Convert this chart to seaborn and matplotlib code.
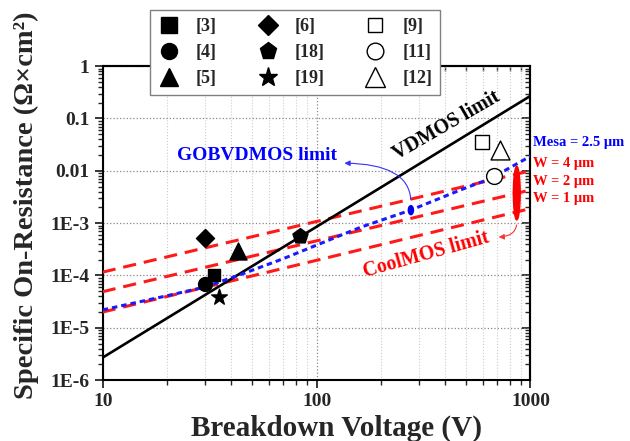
import numpy as np
import pandas as pd
import matplotlib
matplotlib.use('Agg')
import matplotlib.pyplot as plt
import seaborn as sns
from matplotlib.ticker import LogLocator, FixedLocator, FixedFormatter, NullFormatter
from matplotlib.lines import Line2D

# literature devices (breakdown voltage V, specific on-resistance ohm*cm2)
ref_labels = ['[3]', '[4]', '[5]', '[6]', '[18]', '[19]', '[9]', '[11]', '[12]']
ref_voltage = [33, 30, 43, 30, 84, 35, 595, 675, 720]
ref_ron = [1.0e-4, 7.0e-5, 3.0e-4, 5.3e-4, 5.7e-4, 3.8e-5, 0.036, 0.0079, 0.025]

# limit lines
vdmos_v = [10, 1000]
vdmos_r = [2.7e-6, 0.27]
coolmos_v = [10, 1000]
coolmos_w4 = [1.16e-4, 1.0e-2]
coolmos_w2 = [4.9e-5, 4.3e-3]
coolmos_w1 = [2.0e-5, 1.9e-3]
gob_v = [10, 20, 30, 45, 70, 100, 160, 275, 470, 650, 1000]
gob_r = [2.2e-5, 4.1e-5, 6.0e-5, 1.07e-4, 2.1e-4, 3.8e-4, 8.3e-4, 1.77e-3, 4.3e-3, 7.1e-3, 1.9e-2]

# marker styles
ref_markers = ['s', 'o', '^', 'D', 'p', '*', 's', 'o', '^']
ref_filled = [True, True, True, True, True, True, False, False, False]
ref_sizes = [85, 100, 150, 85, 130, 140, 100, 130, 185]
leg_sizes = [11.5, 11.5, 13, 10.2, 12.5, 14, 10.3, 12, 14.4]

sns.set_style('ticks')
plt.rcParams['font.family'] = ['Liberation Serif', 'DejaVu Serif']
plt.rcParams['font.weight'] = 'bold'

fig = plt.figure(figsize=(6.3, 4.41), dpi=100)
ax = fig.add_axes([0.163, 0.138, 0.679, 0.712])
ax.set_xscale('log')
ax.set_yscale('log')

red_dash = (0, (4.3, 2.6))
for w in [coolmos_w4, coolmos_w2, coolmos_w1]:
    sns.lineplot(x=coolmos_v, y=w, ax=ax, color='#ff1a1a', lw=2.2, linestyle=red_dash, zorder=3)
sns.lineplot(x=gob_v, y=gob_r, ax=ax, color='#1a1aff', lw=2.2, linestyle=(0, (1.8, 1.3)), zorder=4)
sns.lineplot(x=vdmos_v, y=vdmos_r, ax=ax, color='black', lw=1.9, zorder=3)

for v, r, m, f, s in zip(ref_voltage, ref_ron, ref_markers, ref_filled, ref_sizes):
    ax.scatter([v], [r], marker=m, s=s, c='black' if f else 'white',
               edgecolors='black', linewidths=1.0, zorder=6)

# small ellipses marking the lines (drawn in log space)
t = np.linspace(0, 2 * np.pi, 80)
ax.fill(10 ** (np.log10(863) + 0.016 * np.cos(t)),
        10 ** ((np.log10(0.0122) + np.log10(1.15e-3)) / 2 + 0.512 * np.sin(t)),
        color='#ff0000', zorder=7, clip_on=False)
ax.fill(10 ** (np.log10(276) + 0.012 * np.cos(t)),
        10 ** (np.log10(1.77e-3) + 0.086 * np.sin(t)),
        color='#0000ee', zorder=7)

ax.set_xlim(10, 1000)
ax.set_ylim(1e-6, 1)

ax.yaxis.set_major_locator(FixedLocator([1e-6, 1e-5, 1e-4, 1e-3, 1e-2, 1e-1, 1]))
ax.yaxis.set_major_formatter(FixedFormatter(['1E-6', '1E-5', '1E-4', '1E-3', '0.01', '0.1', '1']))
ax.xaxis.set_major_locator(FixedLocator([10, 100, 1000]))
ax.xaxis.set_major_formatter(FixedFormatter(['10', '100', '1000']))
for axis in [ax.xaxis, ax.yaxis]:
    axis.set_minor_locator(LogLocator(base=10, subs=np.arange(2, 10), numticks=100))
    axis.set_minor_formatter(NullFormatter())

ax.tick_params(which='major', direction='out', length=6, width=1.3, labelsize=14)
ax.tick_params(which='minor', direction='out', length=3.5, width=1.0)
ax.grid(which='major', ls=':', color='#888888', lw=0.9)
ax.xaxis.grid(which='minor', ls=':', color='#cccccc', lw=0.8)
for sp in ax.spines.values():
    sp.set_linewidth(1.5)
    sp.set_color('black')

for sec in [ax.secondary_xaxis('top'), ax.secondary_yaxis('right')]:
    sec.tick_params(which='major', direction='in', length=6, width=1.3)
    sec.tick_params(which='minor', direction='in', length=3.5, width=1.0)
    for a in [sec.xaxis, sec.yaxis]:
        a.set_major_formatter(NullFormatter())
        a.set_minor_formatter(NullFormatter())
    sec.spines[:].set_linewidth(1.5)
ax.set_xlabel('Breakdown Voltage (V)', fontsize=21, fontweight='bold')
ax.set_ylabel('Specific On-Resistance (Ω×cm²)', fontsize=20.5, fontweight='bold')
ax.xaxis.set_label_coords(0.546, -0.11)
ax.yaxis.set_label_coords(-0.15, 0.557)

# annotations
ax.text(406, 0.0745, 'VDMOS limit', rotation=30, fontsize=14.5, fontweight='bold',
        ha='center', va='center', color='black')
ax.text(324, 2.54e-4, 'CoolMOS limit', rotation=15.6, fontsize=14.3, fontweight='bold',
        ha='center', va='center', color='#ff0000')
ax.text(52.6, 0.02, 'GOBVDMOS limit', fontsize=14, fontweight='bold',
        ha='center', va='center', color='#0000ff')
ax.annotate('', xy=(131, 0.014), xytext=(276, 2.5e-3),
            arrowprops=dict(arrowstyle='-|>', color='#3333ff', lw=0.8,
                            connectionstyle='angle3,angleA=90,angleB=0',
                            mutation_scale=8))
ax.annotate('', xy=(689, 5.4e-4), xytext=(863, 1.04e-3),
            arrowprops=dict(arrowstyle='-|>', color='#ff3333', lw=0.8,
                            connectionstyle='angle3,angleA=90,angleB=0',
                            mutation_scale=8), annotation_clip=False)
side = [('Mesa = 2.5 μm', 0.035, '#0000ff'), ('W = 4 μm', 0.0138, '#ff0000'),
        ('W = 2 μm', 6.3e-3, '#ff0000'), ('W = 1 μm', 2.9e-3, '#ff0000')]
for txt, y, c in side:
    ax.text(1026, y, txt, fontsize=10.5, fontweight='bold', color=c,
            ha='left', va='center', clip_on=False)

handles = []
for lab, m, f, ms in zip(ref_labels, ref_markers, ref_filled, leg_sizes):
    handles.append(Line2D([], [], ls='none', marker=m, markersize=ms,
                          markerfacecolor='black' if f else 'white',
                          markeredgecolor='black', markeredgewidth=1.0, label=lab))
leg = ax.legend(handles=handles, ncol=3, loc='upper left',
                bbox_to_anchor=(150 / 630, 1 - 10 / 441), bbox_transform=fig.transFigure,
                borderaxespad=0, fontsize=13, handlelength=1.2, handletextpad=0.9,
                columnspacing=2.2, labelspacing=0.5, borderpad=0.45,
                fancybox=False, framealpha=1)
leg.get_frame().set_edgecolor('#808080')
leg.get_frame().set_linewidth(1.0)
for tx in leg.get_texts():
    tx.set_fontweight('bold')

fig.savefig('out.png', dpi=100)
